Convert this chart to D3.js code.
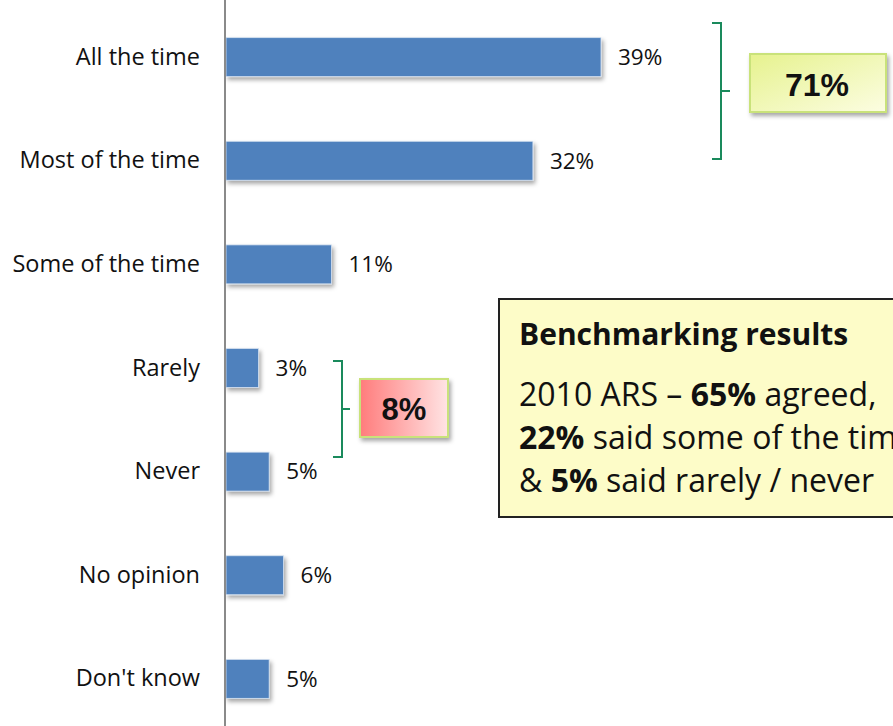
<!DOCTYPE html>
<html>
<head>
<meta charset="utf-8">
<script src="https://cdnjs.cloudflare.com/ajax/libs/d3/7.8.5/d3.min.js"></script>
<style>
  body { margin: 0; background: #fff; }
  svg { display: block; }
  text { font-family: "Open Sans", sans-serif; fill: #111; }
</style>
</head>
<body>
<svg width="893" height="726"></svg>
<script>
// categories and values
var categories = ["All the time", "Most of the time", "Some of the time", "Rarely", "Never", "No opinion", "Don't know"];
var values = [39.1, 32, 11, 3.4, 4.5, 6, 4.5];
var groupTop = ["71%"];
var groupLow = ["8%"];
var benchTitle = "Benchmarking results";

var svg = d3.select("svg");
var width = +svg.attr("width"), height = +svg.attr("height");

var x = d3.scaleLinear().domain([0, 39.1]).range([226, 601]);
var y = d3.scaleBand().domain(categories).range([-27, 763]).padding(0.624);

var defs = svg.append("defs");
var sh = defs.append("filter").attr("id", "shadow").attr("x", "-10%").attr("y", "-20%").attr("width", "130%").attr("height", "160%");
sh.append("feDropShadow").attr("dx", 2).attr("dy", 3).attr("stdDeviation", 2).attr("flood-color", "#000").attr("flood-opacity", 0.35);

var gGreen = defs.append("linearGradient").attr("id", "gGreen").attr("x1", 0).attr("y1", 0).attr("x2", 1).attr("y2", 1);
gGreen.append("stop").attr("offset", 0).attr("stop-color", "#e6f28e");
gGreen.append("stop").attr("offset", 1).attr("stop-color", "#fcfde2");
var gRed = defs.append("linearGradient").attr("id", "gRed").attr("x1", 0).attr("y1", 0).attr("x2", 1).attr("y2", 0);
gRed.append("stop").attr("offset", 0).attr("stop-color", "#ff7c7c");
gRed.append("stop").attr("offset", 1).attr("stop-color", "#ffe4e4");

// bars
svg.append("g").selectAll("rect")
  .data(values)
  .enter().append("rect")
  .attr("x", x(0))
  .attr("y", function(d, i) { return y(categories[i]); })
  .attr("width", function(d) { return x(d) - x(0); })
  .attr("height", y.bandwidth())
  .attr("fill", "#4f81bd")
  .attr("stroke", "#d6e2f0").attr("stroke-width", 0.8)
  .attr("filter", "url(#shadow)");

// value labels
svg.append("g").selectAll("text")
  .data(values)
  .enter().append("text")
  .attr("x", function(d) { return x(d) + 17; })
  .attr("y", function(d, i) { return y(categories[i]) + y.bandwidth() / 2; })
  .attr("dy", "0.35em")
  .style("font-size", "22.5px")
  .text(function(d) { return Math.round(d) + "%"; });

// category axis
var axis = d3.axisLeft(y).tickSize(0).tickPadding(25);
var ax = svg.append("g").attr("transform", "translate(225,0)").call(axis);
ax.select(".domain").remove();
ax.selectAll("text").style("font-size", "23.5px").style("font-family", "'Open Sans', sans-serif").attr("fill", "#111");
svg.append("line").attr("x1", 225).attr("x2", 225).attr("y1", 0).attr("y2", height)
  .attr("stroke", "#8a8a8a").attr("stroke-width", 2);

// braces
function brace(x0, x1, tip, top, bottom) {
  var mid = (top + bottom) / 2;
  return "M" + x0 + "," + top + "H" + x1 + "V" + bottom + "H" + x0 +
    "M" + x1 + "," + mid + "H" + tip;
}
svg.append("path").attr("d", brace(712, 721, 730, 23, 159))
  .attr("fill", "none").attr("stroke", "#1a8a5c").attr("stroke-width", 2);
svg.append("path").attr("d", brace(333, 342, 350, 361, 457))
  .attr("fill", "none").attr("stroke", "#1a8a5c").attr("stroke-width", 2);

// group boxes
svg.append("rect").attr("x", 750).attr("y", 54).attr("width", 136).attr("height", 58)
  .attr("fill", "url(#gGreen)").attr("stroke", "#c9e27a").attr("stroke-width", 2).attr("filter", "url(#shadow)");
svg.append("text").attr("x", 817).attr("y", 84).attr("dy", "0.36em").attr("text-anchor", "middle")
  .style("font-family", "'Liberation Sans', Arial, sans-serif").style("font-weight", "bold").style("font-size", "32px")
  .text(groupTop[0]);

svg.append("rect").attr("x", 360).attr("y", 379).attr("width", 88).attr("height", 58)
  .attr("fill", "url(#gRed)").attr("stroke", "#c9e27a").attr("stroke-width", 2).attr("filter", "url(#shadow)");
svg.append("text").attr("x", 404).attr("y", 409).attr("dy", "0.36em").attr("text-anchor", "middle")
  .style("font-family", "'Liberation Sans', Arial, sans-serif").style("font-weight", "bold").style("font-size", "31px")
  .text(groupLow[0]);

// benchmarking box (runs past the right edge, as in the slide)
svg.append("rect").attr("x", 499).attr("y", 299).attr("width", 420).attr("height", 218)
  .attr("fill", "#fdfcc8").attr("stroke", "#222").attr("stroke-width", 2);
var bt = svg.append("g").style("font-size", "32px");
bt.append("text").attr("x", 519).attr("y", 345).style("font-size", "30px").style("font-weight", "bold").text(benchTitle);
var l1 = bt.append("text").attr("x", 519).attr("y", 406);
l1.append("tspan").text("2010 ARS \u2013 ");
l1.append("tspan").style("font-weight", "bold").text("65%");
l1.append("tspan").text(" agreed,");
var l2 = bt.append("text").attr("x", 519).attr("y", 449);
l2.append("tspan").style("font-weight", "bold").text("22%");
l2.append("tspan").text(" said some of the time");
var l3 = bt.append("text").attr("x", 519).attr("y", 492);
l3.append("tspan").text("& ");
l3.append("tspan").style("font-weight", "bold").text("5%");
l3.append("tspan").text(" said rarely / never");
</script>
</body>
</html>
